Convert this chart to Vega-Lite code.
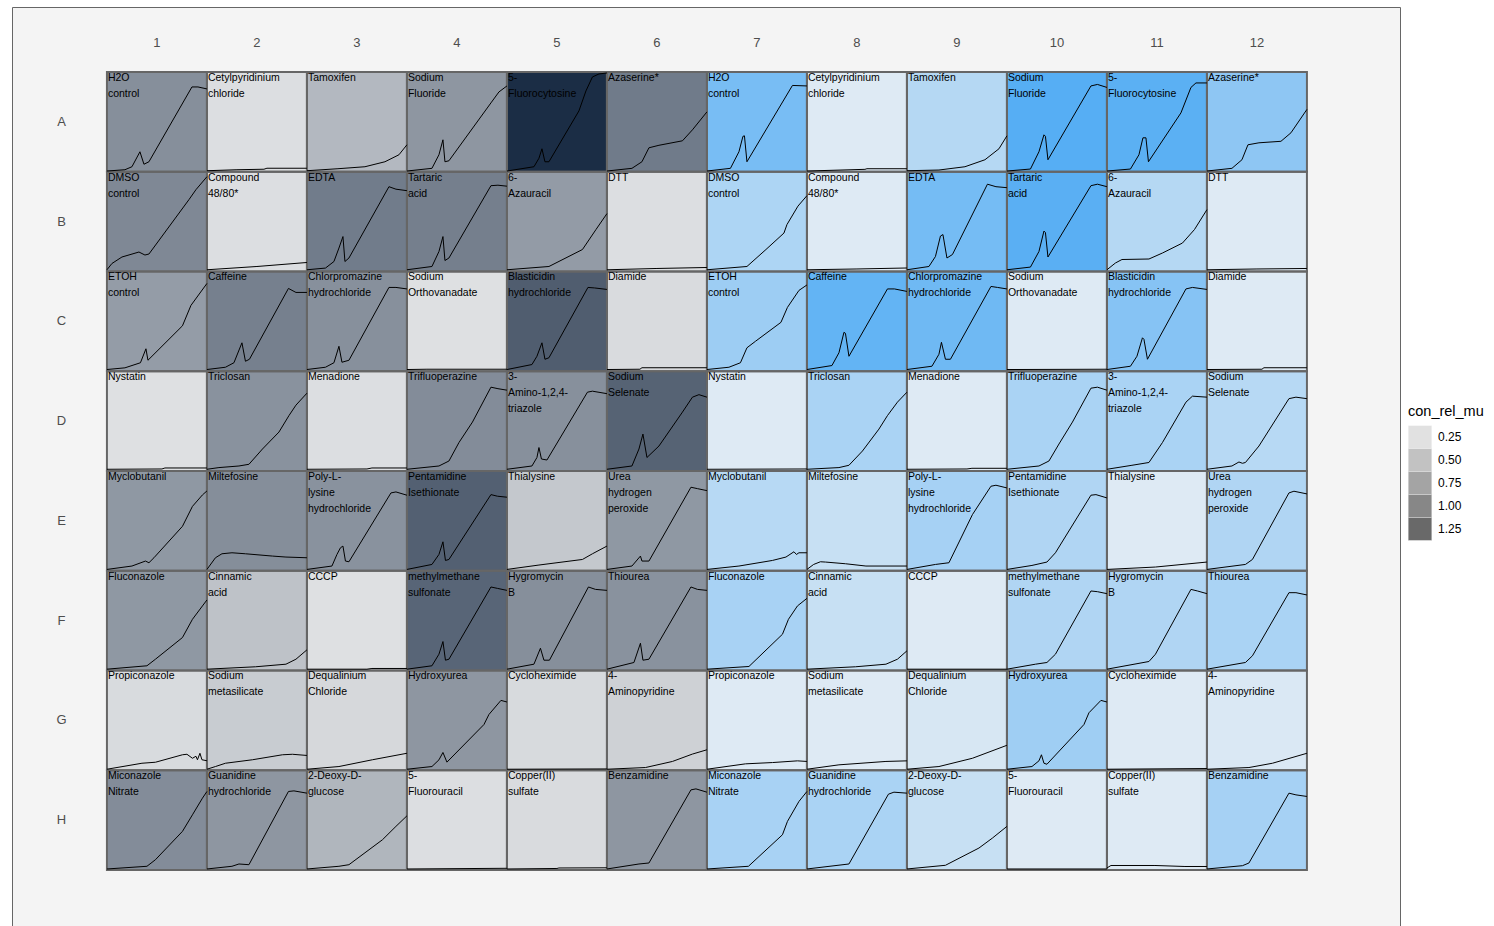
{
"$schema": "https://vega.github.io/schema/vega-lite/v6.json",
"width": 1388, "height": 919,
"autosize": "none",
"padding": {"left": 12, "top": 7, "right": 94, "bottom": 0},
"background": "white",
"config": {
  "view": {"fill": "#f4f4f4", "stroke": "#666666", "strokeWidth": 1},
  "font": "Liberation Sans"
},
"resolve": {"scale": {"xOffset": "independent", "yOffset": "independent"}},
"datasets": {
"wells": [
{"row":"A","col":1,"group":"1","compound":"H2O\ncontrol","con_rel_mu":0.92},
{"row":"A","col":2,"group":"1","compound":"Cetylpyridinium\nchloride","con_rel_mu":0.20},
{"row":"A","col":3,"group":"1","compound":"Tamoxifen","con_rel_mu":0.54},
{"row":"A","col":4,"group":"1","compound":"Sodium\nFluoride","con_rel_mu":0.85},
{"row":"A","col":5,"group":"1","compound":"5-\nFluorocytosine","con_rel_mu":1.81},
{"row":"A","col":6,"group":"1","compound":"Azaserine*","con_rel_mu":1.10},
{"row":"B","col":1,"group":"1","compound":"DMSO\ncontrol","con_rel_mu":0.98},
{"row":"B","col":2,"group":"1","compound":"Compound\n48/80*","con_rel_mu":0.20},
{"row":"B","col":3,"group":"1","compound":"EDTA","con_rel_mu":1.09},
{"row":"B","col":4,"group":"1","compound":"Tartaric\nacid","con_rel_mu":1.06},
{"row":"B","col":5,"group":"1","compound":"6-\nAzauracil","con_rel_mu":0.81},
{"row":"B","col":6,"group":"1","compound":"DTT","con_rel_mu":0.20},
{"row":"C","col":1,"group":"1","compound":"ETOH\ncontrol","con_rel_mu":0.80},
{"row":"C","col":2,"group":"1","compound":"Caffeine","con_rel_mu":1.05},
{"row":"C","col":3,"group":"1","compound":"Chlorpromazine\nhydrochloride","con_rel_mu":0.90},
{"row":"C","col":4,"group":"1","compound":"Sodium\nOrthovanadate","con_rel_mu":0.18},
{"row":"C","col":5,"group":"1","compound":"Blasticidin\nhydrochloride","con_rel_mu":1.38},
{"row":"C","col":6,"group":"1","compound":"Diamide","con_rel_mu":0.22},
{"row":"D","col":1,"group":"1","compound":"Nystatin","con_rel_mu":0.18},
{"row":"D","col":2,"group":"1","compound":"Triclosan","con_rel_mu":0.89},
{"row":"D","col":3,"group":"1","compound":"Menadione","con_rel_mu":0.20},
{"row":"D","col":4,"group":"1","compound":"Trifluoperazine","con_rel_mu":0.94},
{"row":"D","col":5,"group":"1","compound":"3-\nAmino-1,2,4-\ntriazole","con_rel_mu":0.90},
{"row":"D","col":6,"group":"1","compound":"Sodium\nSelenate","con_rel_mu":1.32},
{"row":"E","col":1,"group":"1","compound":"Myclobutanil","con_rel_mu":0.84},
{"row":"E","col":2,"group":"1","compound":"Miltefosine","con_rel_mu":0.93},
{"row":"E","col":3,"group":"1","compound":"Poly-L-\nlysine\nhydrochloride","con_rel_mu":0.89},
{"row":"E","col":4,"group":"1","compound":"Pentamidine\nIsethionate","con_rel_mu":1.34},
{"row":"E","col":5,"group":"1","compound":"Thialysine","con_rel_mu":0.40},
{"row":"E","col":6,"group":"1","compound":"Urea\nhydrogen\nperoxide","con_rel_mu":0.84},
{"row":"F","col":1,"group":"1","compound":"Fluconazole","con_rel_mu":0.84},
{"row":"F","col":2,"group":"1","compound":"Cinnamic\nacid","con_rel_mu":0.45},
{"row":"F","col":3,"group":"1","compound":"CCCP","con_rel_mu":0.18},
{"row":"F","col":4,"group":"1","compound":"methylmethane\nsulfonate","con_rel_mu":1.30},
{"row":"F","col":5,"group":"1","compound":"Hygromycin\nB","con_rel_mu":0.92},
{"row":"F","col":6,"group":"1","compound":"Thiourea","con_rel_mu":0.89},
{"row":"G","col":1,"group":"1","compound":"Propiconazole","con_rel_mu":0.225},
{"row":"G","col":2,"group":"1","compound":"Sodium\nmetasilicate","con_rel_mu":0.36},
{"row":"G","col":3,"group":"1","compound":"Dequalinium\nChloride","con_rel_mu":0.25},
{"row":"G","col":4,"group":"1","compound":"Hydroxyurea","con_rel_mu":0.85},
{"row":"G","col":5,"group":"1","compound":"Cycloheximide","con_rel_mu":0.23},
{"row":"G","col":6,"group":"1","compound":"4-\nAminopyridine","con_rel_mu":0.32},
{"row":"H","col":1,"group":"1","compound":"Miconazole\nNitrate","con_rel_mu":0.94},
{"row":"H","col":2,"group":"1","compound":"Guanidine\nhydrochloride","con_rel_mu":0.85},
{"row":"H","col":3,"group":"1","compound":"2-Deoxy-D-\nglucose","con_rel_mu":0.56},
{"row":"H","col":4,"group":"1","compound":"5-\nFluorouracil","con_rel_mu":0.20},
{"row":"H","col":5,"group":"1","compound":"Copper(II)\nsulfate","con_rel_mu":0.22},
{"row":"H","col":6,"group":"1","compound":"Benzamidine","con_rel_mu":0.85},
{"row":"A","col":7,"group":"2","compound":"H2O\ncontrol","con_rel_mu":1.07},
{"row":"A","col":8,"group":"2","compound":"Cetylpyridinium\nchloride","con_rel_mu":0.18},
{"row":"A","col":9,"group":"2","compound":"Tamoxifen","con_rel_mu":0.54},
{"row":"A","col":10,"group":"2","compound":"Sodium\nFluoride","con_rel_mu":1.36},
{"row":"A","col":11,"group":"2","compound":"5-\nFluorocytosine","con_rel_mu":1.31},
{"row":"A","col":12,"group":"2","compound":"Azaserine*","con_rel_mu":0.87},
{"row":"B","col":7,"group":"2","compound":"DMSO\ncontrol","con_rel_mu":0.61},
{"row":"B","col":8,"group":"2","compound":"Compound\n48/80*","con_rel_mu":0.18},
{"row":"B","col":9,"group":"2","compound":"EDTA","con_rel_mu":1.09},
{"row":"B","col":10,"group":"2","compound":"Tartaric\nacid","con_rel_mu":1.32},
{"row":"B","col":11,"group":"2","compound":"6-\nAzauracil","con_rel_mu":0.54},
{"row":"B","col":12,"group":"2","compound":"DTT","con_rel_mu":0.18},
{"row":"C","col":7,"group":"2","compound":"ETOH\ncontrol","con_rel_mu":0.74},
{"row":"C","col":8,"group":"2","compound":"Caffeine","con_rel_mu":1.25},
{"row":"C","col":9,"group":"2","compound":"Chlorpromazine\nhydrochloride","con_rel_mu":1.14},
{"row":"C","col":10,"group":"2","compound":"Sodium\nOrthovanadate","con_rel_mu":0.18},
{"row":"C","col":11,"group":"2","compound":"Blasticidin\nhydrochloride","con_rel_mu":0.94},
{"row":"C","col":12,"group":"2","compound":"Diamide","con_rel_mu":0.18},
{"row":"D","col":7,"group":"2","compound":"Nystatin","con_rel_mu":0.18},
{"row":"D","col":8,"group":"2","compound":"Triclosan","con_rel_mu":0.64},
{"row":"D","col":9,"group":"2","compound":"Menadione","con_rel_mu":0.18},
{"row":"D","col":10,"group":"2","compound":"Trifluoperazine","con_rel_mu":0.64},
{"row":"D","col":11,"group":"2","compound":"3-\nAmino-1,2,4-\ntriazole","con_rel_mu":0.64},
{"row":"D","col":12,"group":"2","compound":"Sodium\nSelenate","con_rel_mu":0.52},
{"row":"E","col":7,"group":"2","compound":"Myclobutanil","con_rel_mu":0.52},
{"row":"E","col":8,"group":"2","compound":"Miltefosine","con_rel_mu":0.38},
{"row":"E","col":9,"group":"2","compound":"Poly-L-\nlysine\nhydrochloride","con_rel_mu":0.67},
{"row":"E","col":10,"group":"2","compound":"Pentamidine\nIsethionate","con_rel_mu":0.58},
{"row":"E","col":11,"group":"2","compound":"Thialysine","con_rel_mu":0.18},
{"row":"E","col":12,"group":"2","compound":"Urea\nhydrogen\nperoxide","con_rel_mu":0.58},
{"row":"F","col":7,"group":"2","compound":"Fluconazole","con_rel_mu":0.65},
{"row":"F","col":8,"group":"2","compound":"Cinnamic\nacid","con_rel_mu":0.38},
{"row":"F","col":9,"group":"2","compound":"CCCP","con_rel_mu":0.18},
{"row":"F","col":10,"group":"2","compound":"methylmethane\nsulfonate","con_rel_mu":0.58},
{"row":"F","col":11,"group":"2","compound":"Hygromycin\nB","con_rel_mu":0.58},
{"row":"F","col":12,"group":"2","compound":"Thiourea","con_rel_mu":0.64},
{"row":"G","col":7,"group":"2","compound":"Propiconazole","con_rel_mu":0.18},
{"row":"G","col":8,"group":"2","compound":"Sodium\nmetasilicate","con_rel_mu":0.18},
{"row":"G","col":9,"group":"2","compound":"Dequalinium\nChloride","con_rel_mu":0.25},
{"row":"G","col":10,"group":"2","compound":"Hydroxyurea","con_rel_mu":0.72},
{"row":"G","col":11,"group":"2","compound":"Cycloheximide","con_rel_mu":0.18},
{"row":"G","col":12,"group":"2","compound":"4-\nAminopyridine","con_rel_mu":0.22},
{"row":"H","col":7,"group":"2","compound":"Miconazole\nNitrate","con_rel_mu":0.65},
{"row":"H","col":8,"group":"2","compound":"Guanidine\nhydrochloride","con_rel_mu":0.64},
{"row":"H","col":9,"group":"2","compound":"2-Deoxy-D-\nglucose","con_rel_mu":0.38},
{"row":"H","col":10,"group":"2","compound":"5-\nFluorouracil","con_rel_mu":0.18},
{"row":"H","col":11,"group":"2","compound":"Copper(II)\nsulfate","con_rel_mu":0.18},
{"row":"H","col":12,"group":"2","compound":"Benzamidine","con_rel_mu":0.67}
],
"curves": [
{"row":"A","col":1,"t":0,"od":0.007},{"row":"A","col":1,"t":0.18,"od":0.02},{"row":"A","col":1,"t":0.25,"od":0.05},{"row":"A","col":1,"t":0.33,"od":0.2},{"row":"A","col":1,"t":0.37,"od":0.075},{"row":"A","col":1,"t":0.42,"od":0.1},{"row":"A","col":1,"t":0.85,"od":0.85},{"row":"A","col":1,"t":0.91,"od":0.85},{"row":"A","col":1,"t":1,"od":0.83},
{"row":"A","col":2,"t":0,"od":0.01},{"row":"A","col":2,"t":0.3,"od":0.02},{"row":"A","col":2,"t":0.57,"od":0.025},{"row":"A","col":2,"t":0.6,"od":0.035},{"row":"A","col":2,"t":1,"od":0.035},
{"row":"A","col":3,"t":0,"od":0.01},{"row":"A","col":3,"t":0.31,"od":0.03},{"row":"A","col":3,"t":0.58,"od":0.05},{"row":"A","col":3,"t":0.78,"od":0.1},{"row":"A","col":3,"t":0.92,"od":0.17},{"row":"A","col":3,"t":1,"od":0.27},
{"row":"A","col":4,"t":0,"od":0.007},{"row":"A","col":4,"t":0.25,"od":0.034},{"row":"A","col":4,"t":0.32,"od":0.17},{"row":"A","col":4,"t":0.36,"od":0.32},{"row":"A","col":4,"t":0.38,"od":0.1},{"row":"A","col":4,"t":0.42,"od":0.11},{"row":"A","col":4,"t":0.84,"od":0.69},{"row":"A","col":4,"t":0.92,"od":0.8},{"row":"A","col":4,"t":1,"od":0.86},
{"row":"A","col":5,"t":0,"od":0.007},{"row":"A","col":5,"t":0.27,"od":0.05},{"row":"A","col":5,"t":0.32,"od":0.135},{"row":"A","col":5,"t":0.35,"od":0.23},{"row":"A","col":5,"t":0.38,"od":0.1},{"row":"A","col":5,"t":0.42,"od":0.1},{"row":"A","col":5,"t":0.72,"od":0.61},{"row":"A","col":5,"t":0.79,"od":0.81},{"row":"A","col":5,"t":0.855,"od":0.95},{"row":"A","col":5,"t":0.92,"od":0.98},{"row":"A","col":5,"t":1,"od":0.99},
{"row":"A","col":6,"t":0,"od":0.007},{"row":"A","col":6,"t":0.25,"od":0.034},{"row":"A","col":6,"t":0.35,"od":0.1},{"row":"A","col":6,"t":0.42,"od":0.24},{"row":"A","col":6,"t":0.52,"od":0.265},{"row":"A","col":6,"t":0.755,"od":0.31},{"row":"A","col":6,"t":0.855,"od":0.42},{"row":"A","col":6,"t":1,"od":0.6},
{"row":"A","col":7,"t":0,"od":0.007},{"row":"A","col":7,"t":0.235,"od":0.034},{"row":"A","col":7,"t":0.32,"od":0.2},{"row":"A","col":7,"t":0.36,"od":0.355},{"row":"A","col":7,"t":0.375,"od":0.36},{"row":"A","col":7,"t":0.4,"od":0.1},{"row":"A","col":7,"t":0.855,"od":0.865},{"row":"A","col":7,"t":1,"od":0.86},
{"row":"A","col":8,"t":0,"od":0.007},{"row":"A","col":8,"t":0.58,"od":0.024},{"row":"A","col":8,"t":0.6,"od":0.03},{"row":"A","col":8,"t":1,"od":0.03},
{"row":"A","col":9,"t":0,"od":0.01},{"row":"A","col":9,"t":0.32,"od":0.017},{"row":"A","col":9,"t":0.58,"od":0.05},{"row":"A","col":9,"t":0.78,"od":0.12},{"row":"A","col":9,"t":0.92,"od":0.23},{"row":"A","col":9,"t":1,"od":0.36},
{"row":"A","col":10,"t":0,"od":0.007},{"row":"A","col":10,"t":0.235,"od":0.027},{"row":"A","col":10,"t":0.32,"od":0.2},{"row":"A","col":10,"t":0.37,"od":0.37},{"row":"A","col":10,"t":0.385,"od":0.355},{"row":"A","col":10,"t":0.41,"od":0.12},{"row":"A","col":10,"t":0.84,"od":0.86},{"row":"A","col":10,"t":0.905,"od":0.875},{"row":"A","col":10,"t":1,"od":0.845},
{"row":"A","col":11,"t":0,"od":0.007},{"row":"A","col":11,"t":0.235,"od":0.027},{"row":"A","col":11,"t":0.32,"od":0.17},{"row":"A","col":11,"t":0.36,"od":0.34},{"row":"A","col":11,"t":0.39,"od":0.34},{"row":"A","col":11,"t":0.415,"od":0.1},{"row":"A","col":11,"t":0.74,"od":0.59},{"row":"A","col":11,"t":0.84,"od":0.845},{"row":"A","col":11,"t":0.89,"od":0.89},{"row":"A","col":11,"t":1,"od":0.89},
{"row":"A","col":12,"t":0,"od":0.007},{"row":"A","col":12,"t":0.25,"od":0.034},{"row":"A","col":12,"t":0.35,"od":0.12},{"row":"A","col":12,"t":0.41,"od":0.27},{"row":"A","col":12,"t":0.52,"od":0.29},{"row":"A","col":12,"t":0.74,"od":0.305},{"row":"A","col":12,"t":0.84,"od":0.39},{"row":"A","col":12,"t":1,"od":0.625},
{"row":"B","col":1,"t":0,"od":0.017},{"row":"B","col":1,"t":0.05,"od":0.08},{"row":"B","col":1,"t":0.15,"od":0.145},{"row":"B","col":1,"t":0.32,"od":0.195},{"row":"B","col":1,"t":0.38,"od":0.165},{"row":"B","col":1,"t":0.42,"od":0.175},{"row":"B","col":1,"t":0.82,"od":0.72},{"row":"B","col":1,"t":0.89,"od":0.82},{"row":"B","col":1,"t":1,"od":0.95},
{"row":"B","col":2,"t":0,"od":0.017},{"row":"B","col":2,"t":0.5,"od":0.05},{"row":"B","col":2,"t":1,"od":0.09},
{"row":"B","col":3,"t":0,"od":0.017},{"row":"B","col":3,"t":0.185,"od":0.034},{"row":"B","col":3,"t":0.27,"od":0.1},{"row":"B","col":3,"t":0.32,"od":0.235},{"row":"B","col":3,"t":0.36,"od":0.35},{"row":"B","col":3,"t":0.38,"od":0.1},{"row":"B","col":3,"t":0.42,"od":0.135},{"row":"B","col":3,"t":0.82,"od":0.85},{"row":"B","col":3,"t":0.89,"od":0.825},{"row":"B","col":3,"t":1,"od":0.81},
{"row":"B","col":4,"t":0,"od":0.017},{"row":"B","col":4,"t":0.25,"od":0.05},{"row":"B","col":4,"t":0.32,"od":0.2},{"row":"B","col":4,"t":0.36,"od":0.35},{"row":"B","col":4,"t":0.38,"od":0.11},{"row":"B","col":4,"t":0.42,"od":0.135},{"row":"B","col":4,"t":0.84,"od":0.86},{"row":"B","col":4,"t":0.91,"od":0.865},{"row":"B","col":4,"t":1,"od":0.855},
{"row":"B","col":5,"t":0,"od":0.017},{"row":"B","col":5,"t":0.42,"od":0.05},{"row":"B","col":5,"t":0.755,"od":0.22},{"row":"B","col":5,"t":0.89,"od":0.42},{"row":"B","col":5,"t":1,"od":0.58},
{"row":"B","col":6,"t":0,"od":0.017},{"row":"B","col":6,"t":0.5,"od":0.03},{"row":"B","col":6,"t":1,"od":0.04},
{"row":"B","col":7,"t":0,"od":0.017},{"row":"B","col":7,"t":0.4,"od":0.05},{"row":"B","col":7,"t":0.59,"od":0.22},{"row":"B","col":7,"t":0.77,"od":0.385},{"row":"B","col":7,"t":0.8,"od":0.47},{"row":"B","col":7,"t":0.91,"od":0.655},{"row":"B","col":7,"t":1,"od":0.76},
{"row":"B","col":8,"t":0,"od":0.017},{"row":"B","col":8,"t":0.5,"od":0.025},{"row":"B","col":8,"t":1,"od":0.035},
{"row":"B","col":9,"t":0,"od":0.017},{"row":"B","col":9,"t":0.22,"od":0.05},{"row":"B","col":9,"t":0.285,"od":0.15},{"row":"B","col":9,"t":0.335,"od":0.355},{"row":"B","col":9,"t":0.36,"od":0.37},{"row":"B","col":9,"t":0.4,"od":0.135},{"row":"B","col":9,"t":0.455,"od":0.17},{"row":"B","col":9,"t":0.805,"od":0.875},{"row":"B","col":9,"t":0.89,"od":0.85},{"row":"B","col":9,"t":1,"od":0.84},
{"row":"B","col":10,"t":0,"od":0.017},{"row":"B","col":10,"t":0.235,"od":0.044},{"row":"B","col":10,"t":0.32,"od":0.2},{"row":"B","col":10,"t":0.37,"od":0.405},{"row":"B","col":10,"t":0.385,"od":0.39},{"row":"B","col":10,"t":0.41,"od":0.145},{"row":"B","col":10,"t":0.84,"od":0.86},{"row":"B","col":10,"t":0.905,"od":0.875},{"row":"B","col":10,"t":1,"od":0.85},
{"row":"B","col":11,"t":0,"od":0.017},{"row":"B","col":11,"t":0.085,"od":0.085},{"row":"B","col":11,"t":0.15,"od":0.12},{"row":"B","col":11,"t":0.42,"od":0.125},{"row":"B","col":11,"t":0.555,"od":0.185},{"row":"B","col":11,"t":0.755,"od":0.285},{"row":"B","col":11,"t":0.875,"od":0.42},{"row":"B","col":11,"t":1,"od":0.62},
{"row":"B","col":12,"t":0,"od":0.017},{"row":"B","col":12,"t":0.5,"od":0.025},{"row":"B","col":12,"t":1,"od":0.03},
{"row":"C","col":1,"t":0,"od":0.017},{"row":"C","col":1,"t":0.18,"od":0.034},{"row":"C","col":1,"t":0.335,"od":0.085},{"row":"C","col":1,"t":0.39,"od":0.225},{"row":"C","col":1,"t":0.41,"od":0.11},{"row":"C","col":1,"t":0.755,"od":0.455},{"row":"C","col":1,"t":0.84,"od":0.66},{"row":"C","col":1,"t":1,"od":0.88},
{"row":"C","col":2,"t":0,"od":0.017},{"row":"C","col":2,"t":0.185,"od":0.04},{"row":"C","col":2,"t":0.27,"od":0.085},{"row":"C","col":2,"t":0.35,"od":0.285},{"row":"C","col":2,"t":0.385,"od":0.1},{"row":"C","col":2,"t":0.425,"od":0.12},{"row":"C","col":2,"t":0.815,"od":0.83},{"row":"C","col":2,"t":0.89,"od":0.79},{"row":"C","col":2,"t":1,"od":0.79},
{"row":"C","col":3,"t":0,"od":0.017},{"row":"C","col":3,"t":0.185,"od":0.04},{"row":"C","col":3,"t":0.27,"od":0.085},{"row":"C","col":3,"t":0.32,"od":0.25},{"row":"C","col":3,"t":0.35,"od":0.09},{"row":"C","col":3,"t":0.42,"od":0.11},{"row":"C","col":3,"t":0.82,"od":0.84},{"row":"C","col":3,"t":0.89,"od":0.84},{"row":"C","col":3,"t":1,"od":0.825},
{"row":"C","col":4,"t":0,"od":0.017},{"row":"C","col":4,"t":0.2,"od":0.02},{"row":"C","col":4,"t":1,"od":0.02},
{"row":"C","col":5,"t":0,"od":0.017},{"row":"C","col":5,"t":0.25,"od":0.067},{"row":"C","col":5,"t":0.3,"od":0.15},{"row":"C","col":5,"t":0.35,"od":0.285},{"row":"C","col":5,"t":0.38,"od":0.12},{"row":"C","col":5,"t":0.42,"od":0.135},{"row":"C","col":5,"t":0.81,"od":0.84},{"row":"C","col":5,"t":0.875,"od":0.835},{"row":"C","col":5,"t":1,"od":0.82},
{"row":"C","col":6,"t":0,"od":0.017},{"row":"C","col":6,"t":0.33,"od":0.02},{"row":"C","col":6,"t":0.35,"od":0.035},{"row":"C","col":6,"t":1,"od":0.035},
{"row":"C","col":7,"t":0,"od":0.017},{"row":"C","col":7,"t":0.22,"od":0.04},{"row":"C","col":7,"t":0.335,"od":0.085},{"row":"C","col":7,"t":0.4,"od":0.235},{"row":"C","col":7,"t":0.485,"od":0.3},{"row":"C","col":7,"t":0.74,"od":0.49},{"row":"C","col":7,"t":0.805,"od":0.64},{"row":"C","col":7,"t":0.92,"od":0.81},{"row":"C","col":7,"t":1,"od":0.865},
{"row":"C","col":8,"t":0,"od":0.017},{"row":"C","col":8,"t":0.25,"od":0.057},{"row":"C","col":8,"t":0.32,"od":0.185},{"row":"C","col":8,"t":0.37,"od":0.39},{"row":"C","col":8,"t":0.385,"od":0.38},{"row":"C","col":8,"t":0.42,"od":0.15},{"row":"C","col":8,"t":0.805,"od":0.825},{"row":"C","col":8,"t":0.875,"od":0.825},{"row":"C","col":8,"t":1,"od":0.8},
{"row":"C","col":9,"t":0,"od":0.017},{"row":"C","col":9,"t":0.25,"od":0.05},{"row":"C","col":9,"t":0.32,"od":0.17},{"row":"C","col":9,"t":0.345,"od":0.29},{"row":"C","col":9,"t":0.385,"od":0.12},{"row":"C","col":9,"t":0.435,"od":0.12},{"row":"C","col":9,"t":0.84,"od":0.85},{"row":"C","col":9,"t":0.905,"od":0.84},{"row":"C","col":9,"t":1,"od":0.825},
{"row":"C","col":10,"t":0,"od":0.017},{"row":"C","col":10,"t":1,"od":0.02},
{"row":"C","col":11,"t":0,"od":0.017},{"row":"C","col":11,"t":0.235,"od":0.05},{"row":"C","col":11,"t":0.3,"od":0.15},{"row":"C","col":11,"t":0.355,"od":0.335},{"row":"C","col":11,"t":0.37,"od":0.32},{"row":"C","col":11,"t":0.405,"od":0.12},{"row":"C","col":11,"t":0.79,"od":0.825},{"row":"C","col":11,"t":0.855,"od":0.84},{"row":"C","col":11,"t":1,"od":0.82},
{"row":"C","col":12,"t":0,"od":0.017},{"row":"C","col":12,"t":0.55,"od":0.02},{"row":"C","col":12,"t":0.57,"od":0.035},{"row":"C","col":12,"t":1,"od":0.035},
{"row":"D","col":1,"t":0,"od":0.017},{"row":"D","col":1,"t":0.55,"od":0.02},{"row":"D","col":1,"t":0.58,"od":0.03},{"row":"D","col":1,"t":1,"od":0.03},
{"row":"D","col":2,"t":0,"od":0.017},{"row":"D","col":2,"t":0.12,"od":0.034},{"row":"D","col":2,"t":0.32,"od":0.05},{"row":"D","col":2,"t":0.42,"od":0.067},{"row":"D","col":2,"t":0.555,"od":0.22},{"row":"D","col":2,"t":0.72,"od":0.39},{"row":"D","col":2,"t":0.82,"od":0.555},{"row":"D","col":2,"t":0.89,"od":0.66},{"row":"D","col":2,"t":1,"od":0.78},
{"row":"D","col":3,"t":0,"od":0.017},{"row":"D","col":3,"t":0.6,"od":0.02},{"row":"D","col":3,"t":0.65,"od":0.03},{"row":"D","col":3,"t":1,"od":0.03},
{"row":"D","col":4,"t":0,"od":0.017},{"row":"D","col":4,"t":0.32,"od":0.05},{"row":"D","col":4,"t":0.42,"od":0.1},{"row":"D","col":4,"t":0.52,"od":0.285},{"row":"D","col":4,"t":0.655,"od":0.49},{"row":"D","col":4,"t":0.84,"od":0.84},{"row":"D","col":4,"t":0.91,"od":0.825},{"row":"D","col":4,"t":1,"od":0.81},
{"row":"D","col":5,"t":0,"od":0.017},{"row":"D","col":5,"t":0.25,"od":0.05},{"row":"D","col":5,"t":0.3,"od":0.135},{"row":"D","col":5,"t":0.32,"od":0.235},{"row":"D","col":5,"t":0.345,"od":0.12},{"row":"D","col":5,"t":0.4,"od":0.11},{"row":"D","col":5,"t":0.805,"od":0.79},{"row":"D","col":5,"t":0.855,"od":0.8},{"row":"D","col":5,"t":1,"od":0.775},
{"row":"D","col":6,"t":0,"od":0.017},{"row":"D","col":6,"t":0.25,"od":0.05},{"row":"D","col":6,"t":0.32,"od":0.22},{"row":"D","col":6,"t":0.36,"od":0.37},{"row":"D","col":6,"t":0.4,"od":0.135},{"row":"D","col":6,"t":0.52,"od":0.25},{"row":"D","col":6,"t":0.755,"od":0.59},{"row":"D","col":6,"t":0.855,"od":0.74},{"row":"D","col":6,"t":0.92,"od":0.765},{"row":"D","col":6,"t":1,"od":0.74},
{"row":"D","col":7,"t":0,"od":0.017},{"row":"D","col":7,"t":1,"od":0.02},
{"row":"D","col":8,"t":0,"od":0.017},{"row":"D","col":8,"t":0.32,"od":0.034},{"row":"D","col":8,"t":0.42,"od":0.057},{"row":"D","col":8,"t":0.555,"od":0.2},{"row":"D","col":8,"t":0.72,"od":0.42},{"row":"D","col":8,"t":0.805,"od":0.555},{"row":"D","col":8,"t":0.905,"od":0.69},{"row":"D","col":8,"t":1,"od":0.79},
{"row":"D","col":9,"t":0,"od":0.017},{"row":"D","col":9,"t":0.6,"od":0.02},{"row":"D","col":9,"t":0.65,"od":0.027},{"row":"D","col":9,"t":1,"od":0.027},
{"row":"D","col":10,"t":0,"od":0.017},{"row":"D","col":10,"t":0.32,"od":0.05},{"row":"D","col":10,"t":0.42,"od":0.1},{"row":"D","col":10,"t":0.52,"od":0.27},{"row":"D","col":10,"t":0.655,"od":0.49},{"row":"D","col":10,"t":0.84,"od":0.83},{"row":"D","col":10,"t":0.905,"od":0.84},{"row":"D","col":10,"t":1,"od":0.81},
{"row":"D","col":11,"t":0,"od":0.017},{"row":"D","col":11,"t":0.25,"od":0.057},{"row":"D","col":11,"t":0.42,"od":0.085},{"row":"D","col":11,"t":0.555,"od":0.285},{"row":"D","col":11,"t":0.79,"od":0.69},{"row":"D","col":11,"t":0.855,"od":0.75},{"row":"D","col":11,"t":1,"od":0.74},
{"row":"D","col":12,"t":0,"od":0.017},{"row":"D","col":12,"t":0.25,"od":0.05},{"row":"D","col":12,"t":0.32,"od":0.09},{"row":"D","col":12,"t":0.355,"od":0.077},{"row":"D","col":12,"t":0.385,"od":0.085},{"row":"D","col":12,"t":0.52,"od":0.25},{"row":"D","col":12,"t":0.82,"od":0.725},{"row":"D","col":12,"t":0.89,"od":0.74},{"row":"D","col":12,"t":1,"od":0.725},
{"row":"E","col":1,"t":0,"od":0.013},{"row":"E","col":1,"t":0.25,"od":0.047},{"row":"E","col":1,"t":0.385,"od":0.097},{"row":"E","col":1,"t":0.42,"od":0.08},{"row":"E","col":1,"t":0.47,"od":0.13},{"row":"E","col":1,"t":0.755,"od":0.445},{"row":"E","col":1,"t":0.855,"od":0.645},{"row":"E","col":1,"t":0.955,"od":0.76},{"row":"E","col":1,"t":1,"od":0.8},
{"row":"E","col":2,"t":0,"od":0.013},{"row":"E","col":2,"t":0.085,"od":0.13},{"row":"E","col":2,"t":0.15,"od":0.17},{"row":"E","col":2,"t":0.25,"od":0.18},{"row":"E","col":2,"t":0.385,"od":0.17},{"row":"E","col":2,"t":0.655,"od":0.147},{"row":"E","col":2,"t":0.79,"od":0.137},{"row":"E","col":2,"t":1,"od":0.13},
{"row":"E","col":3,"t":0,"od":0.013},{"row":"E","col":3,"t":0.25,"od":0.047},{"row":"E","col":3,"t":0.3,"od":0.163},{"row":"E","col":3,"t":0.335,"od":0.23},{"row":"E","col":3,"t":0.36,"od":0.247},{"row":"E","col":3,"t":0.385,"od":0.097},{"row":"E","col":3,"t":0.42,"od":0.09},{"row":"E","col":3,"t":0.84,"od":0.78},{"row":"E","col":3,"t":0.89,"od":0.79},{"row":"E","col":3,"t":1,"od":0.757},
{"row":"E","col":4,"t":0,"od":0.013},{"row":"E","col":4,"t":0.25,"od":0.063},{"row":"E","col":4,"t":0.32,"od":0.163},{"row":"E","col":4,"t":0.36,"od":0.29},{"row":"E","col":4,"t":0.385,"od":0.103},{"row":"E","col":4,"t":0.42,"od":0.113},{"row":"E","col":4,"t":0.84,"od":0.763},{"row":"E","col":4,"t":0.905,"od":0.747},{"row":"E","col":4,"t":1,"od":0.737},
{"row":"E","col":5,"t":0,"od":0.013},{"row":"E","col":5,"t":0.32,"od":0.057},{"row":"E","col":5,"t":0.755,"od":0.113},{"row":"E","col":5,"t":0.855,"od":0.17},{"row":"E","col":5,"t":1,"od":0.247},
{"row":"E","col":6,"t":0,"od":0.013},{"row":"E","col":6,"t":0.25,"od":0.047},{"row":"E","col":6,"t":0.335,"od":0.147},{"row":"E","col":6,"t":0.35,"od":0.097},{"row":"E","col":6,"t":0.42,"od":0.097},{"row":"E","col":6,"t":0.84,"od":0.837},{"row":"E","col":6,"t":0.905,"od":0.823},{"row":"E","col":6,"t":1,"od":0.803},
{"row":"E","col":7,"t":0,"od":0.013},{"row":"E","col":7,"t":0.32,"od":0.047},{"row":"E","col":7,"t":0.655,"od":0.103},{"row":"E","col":7,"t":0.79,"od":0.137},{"row":"E","col":7,"t":0.87,"od":0.19},{"row":"E","col":7,"t":0.895,"od":0.163},{"row":"E","col":7,"t":0.92,"od":0.18},{"row":"E","col":7,"t":1,"od":0.18},
{"row":"E","col":8,"t":0,"od":0.013},{"row":"E","col":8,"t":0.067,"od":0.063},{"row":"E","col":8,"t":0.135,"od":0.09},{"row":"E","col":8,"t":0.185,"od":0.087},{"row":"E","col":8,"t":0.385,"od":0.07},{"row":"E","col":8,"t":0.59,"od":0.047},{"row":"E","col":8,"t":1,"od":0.047},
{"row":"E","col":9,"t":0,"od":0.013},{"row":"E","col":9,"t":0.285,"od":0.063},{"row":"E","col":9,"t":0.42,"od":0.08},{"row":"E","col":9,"t":0.655,"od":0.563},{"row":"E","col":9,"t":0.84,"od":0.847},{"row":"E","col":9,"t":0.89,"od":0.857},{"row":"E","col":9,"t":1,"od":0.83},
{"row":"E","col":10,"t":0,"od":0.013},{"row":"E","col":10,"t":0.25,"od":0.053},{"row":"E","col":10,"t":0.4,"od":0.087},{"row":"E","col":10,"t":0.485,"od":0.18},{"row":"E","col":10,"t":0.84,"od":0.757},{"row":"E","col":10,"t":0.89,"od":0.763},{"row":"E","col":10,"t":1,"od":0.73},
{"row":"E","col":11,"t":0,"od":0.013},{"row":"E","col":11,"t":0.485,"od":0.037},{"row":"E","col":11,"t":1,"od":0.087},
{"row":"E","col":12,"t":0,"od":0.013},{"row":"E","col":12,"t":0.385,"od":0.063},{"row":"E","col":12,"t":0.455,"od":0.113},{"row":"E","col":12,"t":0.82,"od":0.78},{"row":"E","col":12,"t":0.87,"od":0.797},{"row":"E","col":12,"t":1,"od":0.77},
{"row":"F","col":1,"t":0,"od":0.013},{"row":"F","col":1,"t":0.4,"od":0.047},{"row":"F","col":1,"t":0.485,"od":0.113},{"row":"F","col":1,"t":0.755,"od":0.33},{"row":"F","col":1,"t":0.855,"od":0.513},{"row":"F","col":1,"t":0.955,"od":0.647},{"row":"F","col":1,"t":1,"od":0.707},
{"row":"F","col":2,"t":0,"od":0.013},{"row":"F","col":2,"t":0.485,"od":0.037},{"row":"F","col":2,"t":0.79,"od":0.063},{"row":"F","col":2,"t":0.89,"od":0.113},{"row":"F","col":2,"t":1,"od":0.207},
{"row":"F","col":3,"t":0,"od":0.013},{"row":"F","col":3,"t":0.6,"od":0.013},{"row":"F","col":3,"t":0.65,"od":0.02},{"row":"F","col":3,"t":1,"od":0.02},
{"row":"F","col":4,"t":0,"od":0.013},{"row":"F","col":4,"t":0.25,"od":0.047},{"row":"F","col":4,"t":0.32,"od":0.163},{"row":"F","col":4,"t":0.36,"od":0.29},{"row":"F","col":4,"t":0.385,"od":0.103},{"row":"F","col":4,"t":0.42,"od":0.113},{"row":"F","col":4,"t":0.84,"od":0.837},{"row":"F","col":4,"t":0.905,"od":0.823},{"row":"F","col":4,"t":1,"od":0.803},
{"row":"F","col":5,"t":0,"od":0.013},{"row":"F","col":5,"t":0.27,"od":0.063},{"row":"F","col":5,"t":0.335,"od":0.223},{"row":"F","col":5,"t":0.37,"od":0.103},{"row":"F","col":5,"t":0.425,"od":0.103},{"row":"F","col":5,"t":0.815,"od":0.837},{"row":"F","col":5,"t":0.885,"od":0.813},{"row":"F","col":5,"t":1,"od":0.803},
{"row":"F","col":6,"t":0,"od":0.013},{"row":"F","col":6,"t":0.27,"od":0.08},{"row":"F","col":6,"t":0.335,"od":0.273},{"row":"F","col":6,"t":0.36,"od":0.103},{"row":"F","col":6,"t":0.42,"od":0.113},{"row":"F","col":6,"t":0.84,"od":0.837},{"row":"F","col":6,"t":0.905,"od":0.813},{"row":"F","col":6,"t":1,"od":0.803},
{"row":"F","col":7,"t":0,"od":0.013},{"row":"F","col":7,"t":0.42,"od":0.04},{"row":"F","col":7,"t":0.755,"od":0.363},{"row":"F","col":7,"t":0.815,"od":0.513},{"row":"F","col":7,"t":0.905,"od":0.647},{"row":"F","col":7,"t":1,"od":0.723},
{"row":"F","col":8,"t":0,"od":0.013},{"row":"F","col":8,"t":0.485,"od":0.037},{"row":"F","col":8,"t":0.79,"od":0.063},{"row":"F","col":8,"t":0.905,"od":0.113},{"row":"F","col":8,"t":1,"od":0.197},
{"row":"F","col":9,"t":0,"od":0.013},{"row":"F","col":9,"t":1,"od":0.013},
{"row":"F","col":10,"t":0,"od":0.013},{"row":"F","col":10,"t":0.285,"od":0.063},{"row":"F","col":10,"t":0.4,"od":0.08},{"row":"F","col":10,"t":0.485,"od":0.163},{"row":"F","col":10,"t":0.84,"od":0.797},{"row":"F","col":10,"t":0.905,"od":0.79},{"row":"F","col":10,"t":1,"od":0.77},
{"row":"F","col":11,"t":0,"od":0.013},{"row":"F","col":11,"t":0.42,"od":0.09},{"row":"F","col":11,"t":0.485,"od":0.163},{"row":"F","col":11,"t":0.84,"od":0.813},{"row":"F","col":11,"t":0.905,"od":0.797},{"row":"F","col":11,"t":1,"od":0.77},
{"row":"F","col":12,"t":0,"od":0.013},{"row":"F","col":12,"t":0.385,"od":0.08},{"row":"F","col":12,"t":0.455,"od":0.147},{"row":"F","col":12,"t":0.82,"od":0.78},{"row":"F","col":12,"t":0.89,"od":0.78},{"row":"F","col":12,"t":1,"od":0.757},
{"row":"G","col":1,"t":0,"od":0.01},{"row":"G","col":1,"t":0.35,"od":0.07},{"row":"G","col":1,"t":0.485,"od":0.08},{"row":"G","col":1,"t":0.755,"od":0.155},{"row":"G","col":1,"t":0.8,"od":0.16},{"row":"G","col":1,"t":0.855,"od":0.12},{"row":"G","col":1,"t":0.89,"od":0.14},{"row":"G","col":1,"t":0.905,"od":0.105},{"row":"G","col":1,"t":0.93,"od":0.17},{"row":"G","col":1,"t":0.95,"od":0.105},{"row":"G","col":1,"t":1,"od":0.095},
{"row":"G","col":2,"t":0,"od":0.01},{"row":"G","col":2,"t":0.085,"od":0.037},{"row":"G","col":2,"t":0.185,"od":0.07},{"row":"G","col":2,"t":0.455,"od":0.105},{"row":"G","col":2,"t":0.755,"od":0.155},{"row":"G","col":2,"t":0.855,"od":0.16},{"row":"G","col":2,"t":1,"od":0.148},
{"row":"G","col":3,"t":0,"od":0.01},{"row":"G","col":3,"t":0.32,"od":0.037},{"row":"G","col":3,"t":0.655,"od":0.105},{"row":"G","col":3,"t":1,"od":0.17},
{"row":"G","col":4,"t":0,"od":0.01},{"row":"G","col":4,"t":0.25,"od":0.037},{"row":"G","col":4,"t":0.32,"od":0.104},{"row":"G","col":4,"t":0.36,"od":0.178},{"row":"G","col":4,"t":0.4,"od":0.081},{"row":"G","col":4,"t":0.77,"od":0.458},{"row":"G","col":4,"t":0.82,"od":0.559},{"row":"G","col":4,"t":0.94,"od":0.7},{"row":"G","col":4,"t":1,"od":0.684},
{"row":"G","col":5,"t":0,"od":0.01},{"row":"G","col":5,"t":1,"od":0.013},
{"row":"G","col":6,"t":0,"od":0.01},{"row":"G","col":6,"t":0.385,"od":0.027},{"row":"G","col":6,"t":0.655,"od":0.088},{"row":"G","col":6,"t":0.855,"od":0.162},{"row":"G","col":6,"t":1,"od":0.205},
{"row":"G","col":7,"t":0,"od":0.01},{"row":"G","col":7,"t":0.385,"od":0.064},{"row":"G","col":7,"t":0.655,"od":0.077},{"row":"G","col":7,"t":0.905,"od":0.094},{"row":"G","col":7,"t":1,"od":0.088},
{"row":"G","col":8,"t":0,"od":0.01},{"row":"G","col":8,"t":0.32,"od":0.054},{"row":"G","col":8,"t":0.79,"od":0.088},{"row":"G","col":8,"t":1,"od":0.094},
{"row":"G","col":9,"t":0,"od":0.01},{"row":"G","col":9,"t":0.32,"od":0.037},{"row":"G","col":9,"t":0.655,"od":0.12},{"row":"G","col":9,"t":1,"od":0.25},
{"row":"G","col":10,"t":0,"od":0.01},{"row":"G","col":10,"t":0.25,"od":0.037},{"row":"G","col":10,"t":0.32,"od":0.094},{"row":"G","col":10,"t":0.345,"od":0.155},{"row":"G","col":10,"t":0.37,"od":0.07},{"row":"G","col":10,"t":0.4,"od":0.06},{"row":"G","col":10,"t":0.77,"od":0.458},{"row":"G","col":10,"t":0.82,"od":0.576},{"row":"G","col":10,"t":0.94,"od":0.7},{"row":"G","col":10,"t":1,"od":0.684},
{"row":"G","col":11,"t":0,"od":0.01},{"row":"G","col":11,"t":1,"od":0.017},
{"row":"G","col":12,"t":0,"od":0.01},{"row":"G","col":12,"t":0.42,"od":0.027},{"row":"G","col":12,"t":0.655,"od":0.07},{"row":"G","col":12,"t":1,"od":0.17},
{"row":"H","col":1,"t":0,"od":0.01},{"row":"H","col":1,"t":0.4,"od":0.037},{"row":"H","col":1,"t":0.485,"od":0.103},{"row":"H","col":1,"t":0.755,"od":0.387},{"row":"H","col":1,"t":0.855,"od":0.553},{"row":"H","col":1,"t":0.955,"od":0.72},{"row":"H","col":1,"t":1,"od":0.787},
{"row":"H","col":2,"t":0,"od":0.01},{"row":"H","col":2,"t":0.25,"od":0.037},{"row":"H","col":2,"t":0.32,"od":0.06},{"row":"H","col":2,"t":0.42,"od":0.053},{"row":"H","col":2,"t":0.815,"od":0.787},{"row":"H","col":2,"t":0.87,"od":0.793},{"row":"H","col":2,"t":1,"od":0.77},
{"row":"H","col":3,"t":0,"od":0.01},{"row":"H","col":3,"t":0.32,"od":0.037},{"row":"H","col":3,"t":0.42,"od":0.053},{"row":"H","col":3,"t":0.755,"od":0.303},{"row":"H","col":3,"t":0.89,"od":0.437},{"row":"H","col":3,"t":1,"od":0.543},
{"row":"H","col":4,"t":0,"od":0.01},{"row":"H","col":4,"t":1,"od":0.017},
{"row":"H","col":5,"t":0,"od":0.01},{"row":"H","col":5,"t":0.5,"od":0.015},{"row":"H","col":5,"t":0.52,"od":0.02},{"row":"H","col":5,"t":1,"od":0.022},
{"row":"H","col":6,"t":0,"od":0.01},{"row":"H","col":6,"t":0.32,"od":0.06},{"row":"H","col":6,"t":0.42,"od":0.07},{"row":"H","col":6,"t":0.84,"od":0.803},{"row":"H","col":6,"t":0.89,"od":0.813},{"row":"H","col":6,"t":1,"od":0.78},
{"row":"H","col":7,"t":0,"od":0.01},{"row":"H","col":7,"t":0.415,"od":0.037},{"row":"H","col":7,"t":0.755,"od":0.353},{"row":"H","col":7,"t":0.805,"od":0.487},{"row":"H","col":7,"t":0.92,"od":0.687},{"row":"H","col":7,"t":1,"od":0.787},
{"row":"H","col":8,"t":0,"od":0.01},{"row":"H","col":8,"t":0.42,"od":0.06},{"row":"H","col":8,"t":0.815,"od":0.76},{"row":"H","col":8,"t":0.87,"od":0.78},{"row":"H","col":8,"t":1,"od":0.77},
{"row":"H","col":9,"t":0,"od":0.01},{"row":"H","col":9,"t":0.385,"od":0.047},{"row":"H","col":9,"t":0.72,"od":0.22},{"row":"H","col":9,"t":0.855,"od":0.32},{"row":"H","col":9,"t":1,"od":0.437},
{"row":"H","col":10,"t":0,"od":0.01},{"row":"H","col":10,"t":1,"od":0.01},
{"row":"H","col":11,"t":0,"od":0.02},{"row":"H","col":11,"t":0.04,"od":0.045},{"row":"H","col":11,"t":0.48,"od":0.045},{"row":"H","col":11,"t":0.78,"od":0.035},{"row":"H","col":11,"t":1,"od":0.035},
{"row":"H","col":12,"t":0,"od":0.01},{"row":"H","col":12,"t":0.355,"od":0.043},{"row":"H","col":12,"t":0.42,"od":0.07},{"row":"H","col":12,"t":0.82,"od":0.77},{"row":"H","col":12,"t":0.89,"od":0.753},{"row":"H","col":12,"t":1,"od":0.737}
]
},
"layer": [
{
  "data": {"name": "wells"},
  "mark": {"type": "rect", "strokeWidth": 0},
  "encoding": {
    "x": {"field": "col", "type": "ordinal", "scale": {"type": "band", "paddingInner": 0, "paddingOuter": 0.94, "align": 0.505},
          "axis": {"orient": "top", "offset": -35, "title": null, "domain": false, "ticks": false, "tickSize": 0, "grid": false, "labelPadding": 0, "labelBaseline": "middle", "labelFontSize": 13, "labelColor": "#4d4d4d", "labelAngle": 0}},
    "y": {"field": "row", "type": "ordinal", "scale": {"type": "band", "paddingInner": 0, "paddingOuter": 0.6065, "align": 0.537},
          "axis": {"orient": "left", "offset": -49, "title": null, "domain": false, "ticks": false, "tickSize": 0, "grid": false, "labelPadding": 0, "labelAlign": "center", "labelBaseline": "middle", "labelFontSize": 13, "labelColor": "#4d4d4d"}},
    "fill": {"field": "group", "type": "nominal", "scale": {"domain": ["1", "2"], "range": ["#1b2d45", "#2196f3"]}, "legend": null},
    "opacity": {"field": "con_rel_mu", "type": "quantitative", "scale": {"domain": [0.18, 1.81], "range": [0.1, 1], "clamp": true},
      "legend": {"title": "con_rel_mu", "orient": "none", "legendX": 1396, "legendY": 398, "direction": "vertical",
        "values": [0.25, 0.5, 0.75, 1, 1.25], "format": ".2f", "symbolType": "square", "symbolSize": 529, "rowPadding": 0, "clipHeight": 23,
        "labelFontSize": 12, "labelOffset": 6, "labelColor": "black", "titleFontSize": 14.5, "titleFontWeight": "normal", "titleColor": "black", "titlePadding": 6,
        "symbolFillColor": "#262626", "symbolStrokeColor": "#7f7f7f", "symbolStrokeWidth": 1}}
  }
},
{
  "data": {"name": "wells"},
  "mark": {"type": "rect", "fill": null, "fillOpacity": 0, "stroke": "#666666", "strokeWidth": 2},
  "encoding": {
    "x": {"field": "col", "type": "ordinal", "scale": {"type": "band"}},
    "y": {"field": "row", "type": "ordinal", "scale": {"type": "band"}}
  }
},
{
  "data": {"name": "curves"},
  "mark": {"type": "line", "color": "black", "strokeWidth": 1},
  "encoding": {
    "x": {"field": "col", "type": "ordinal", "bandPosition": 0, "scale": {"type": "band"}},
    "y": {"field": "row", "type": "ordinal", "bandPosition": 0, "scale": {"type": "band"}},
    "xOffset": {"field": "t", "type": "quantitative", "scale": {"domain": [0, 1], "nice": false, "zero": false}},
    "yOffset": {"field": "od", "type": "quantitative", "scale": {"domain": [0, 1], "nice": false, "reverse": true}},
    "detail": [{"field": "row"}, {"field": "col"}],
    "order": {"field": "t", "type": "quantitative"}
  }
},
{
  "data": {"name": "wells"},
  "mark": {"type": "text", "align": "left", "baseline": "top", "dx": 1, "dy": 1, "fontSize": 10.5, "lineHeight": 16, "lineBreak": "\n", "color": "black"},
  "encoding": {
    "x": {"field": "col", "type": "ordinal", "bandPosition": 0, "scale": {"type": "band"}},
    "y": {"field": "row", "type": "ordinal", "bandPosition": 0, "scale": {"type": "band"}},
    "text": {"field": "compound"}
  }
}
]
}
